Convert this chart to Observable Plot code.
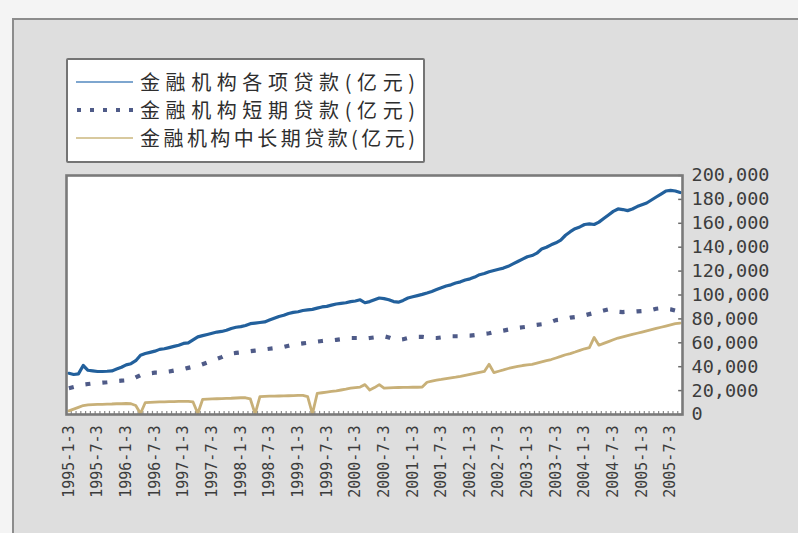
<!DOCTYPE html>
<html>
<head>
<meta charset="utf-8">
<script src="https://cdn.jsdelivr.net/npm/d3@7"></script>
<script src="https://cdn.jsdelivr.net/npm/@observablehq/plot@0.6"></script>
<style>
  html, body { margin: 0; padding: 0; background: #f4f4f4; }
  #wrap { position: relative; width: 798px; height: 533px; overflow: hidden; }
  #panel { position: absolute; left: 12px; top: 18px; width: 800px; height: 530px;
           background: #dedede; border-top: 2px solid #8c8c8c; border-left: 2px solid #8c8c8c; }
  #chart { position: absolute; left: 0; top: 0; }
  #legend { position: absolute; left: 66px; top: 58px; width: 355px; height: 101px;
            background: #ffffff; border: 2px solid #747474; border-radius: 2px; }
  .row { position: absolute; left: 0; height: 28px; width: 355px; }
  .row svg { position: absolute; left: 8px; top: 0; }
  .row span { position: absolute; left: 72px; top: 0; width: 275px; line-height: 28px;
              font-family: "Noto Sans CJK SC", sans-serif; font-size: 20px; color: #2e2e2e;
              text-align: justify; text-align-last: justify; white-space: nowrap; }
</style>
</head>
<body>
<div id="wrap">
  <div id="panel"></div>
  <div id="chart"></div>
  <div id="legend"></div>
</div>
<script>
const seriesNames = ["金融机构各项贷款(亿元)", "金融机构短期贷款(亿元)", "金融机构中长期贷款(亿元)"];

const tickLabels = ["1995-1-3","1995-7-3","1996-1-3","1996-7-3","1997-1-3","1997-7-3",
  "1998-1-3","1998-7-3","1999-1-3","1999-7-3","2000-1-3","2000-7-3","2001-1-3","2001-7-3",
  "2002-1-3","2002-7-3","2003-1-3","2003-7-3","2004-1-3","2004-7-3","2005-1-3","2005-7-3"];

const yTickValues = [0,20000,40000,60000,80000,100000,120000,140000,160000,180000,200000];

// 金融机构各项贷款 (monthly, 1995-01 .. 2005-09)
const totalLoans = [34500,33500,34000,41000,37000,36500,36000,36000,36200,36500,38000,39500,
  41500,42500,45000,49600,51000,52000,53000,54500,55000,56000,57000,58000,
  59500,60000,62500,65000,66000,67000,68000,69000,69500,70500,72000,73000,
  73500,74500,76000,76500,77000,77500,79000,80500,82000,83000,84500,85500,
  86000,87000,87500,88000,89000,90000,90500,91500,92500,93000,93500,94500,
  95000,96000,93500,94500,96000,97500,97000,96000,94500,94000,95500,97500,
  98500,99500,100500,101700,103000,104500,106000,107500,108500,110000,111000,112500,
  113500,115000,117000,118000,119500,120500,121500,122500,124000,126000,128000,130000,
  132000,133000,135000,138500,140000,142000,143700,146000,150000,153000,155500,157000,
  159000,159500,159000,161000,164000,167000,170000,172000,171500,170600,172000,174000,
  175500,177000,179500,182000,184500,187000,187500,187000,185700];

// 金融机构短期贷款
const shortTermLoans = [22000,23000,24000,25000,25500,26000,26300,26600,27000,27500,28000,28300,
  28600,29000,31000,33000,34000,34500,35000,35000,35500,36000,36800,37500,
  38000,39000,40000,40500,42000,43500,45000,46500,48000,50000,51000,51500,
  52000,52500,53000,53500,54000,54500,55000,55500,56000,56500,57500,58500,
  59000,59500,60000,60500,61000,61500,62000,62000,62500,63000,63500,64000,
  64000,64000,63500,64000,64500,65000,65500,64500,63000,62500,63000,64000,
  64500,65000,65000,64500,64000,64000,64500,65000,65500,65500,65500,66000,
  66000,66500,67000,67500,68000,69000,69500,70200,71000,71500,72500,73000,
  73500,74500,75000,75500,76500,77500,79000,79500,80000,81000,81500,82000,
  83000,84000,85000,86000,87000,88000,87000,86000,85700,86000,86000,86300,
  86600,87000,87500,88500,89000,88500,88000,87000,87000];

// 金融机构中长期贷款
const longTermLoans = [3000,4500,6000,7500,8000,8300,8500,8500,8700,8800,9000,9000,
  9200,9000,7500,800,10000,10200,10400,10500,10600,10700,10800,10900,
  11000,11000,10500,800,12600,12800,13000,13200,13300,13500,13600,13800,
  14000,14000,13000,500,15000,15200,15300,15400,15500,15600,15700,15800,
  16000,16000,15000,500,17600,18200,18800,19300,19800,20500,21200,22000,
  22500,23000,25000,20500,22500,25000,22000,22300,22500,22600,22700,22700,
  22800,22800,23000,27000,28000,28700,29300,30000,30700,31300,32000,32800,
  33600,34400,35200,36000,42000,35000,36200,37300,38500,39500,40300,41000,
  41500,42000,43000,44000,45000,46000,47300,48600,50000,51000,52300,53700,
  55000,56000,64500,58000,59500,61000,62500,64000,65000,66000,67000,68000,
  69000,70000,71000,72000,73000,74000,75000,76000,76500];

const colors = ["#22609c", "#4f5b88", "#c8b078"];
const n = totalLoans.length;
const monthIdx = d3.range(n);
const labelIdx = tickLabels.map((_, i) => i * 6);

const chart = Plot.plot({
  width: 798,
  height: 533,
  marginLeft: 66,
  marginRight: 116,
  marginTop: 175,
  marginBottom: 119,
  style: { background: "transparent", fontFamily: "DejaVu Sans Mono, monospace", color: "#3c3c3c" },
  x: { domain: [-0.5, n - 0.5], axis: null },
  y: { domain: [0, 200000], axis: null },
  marks: [
    Plot.frame({ fill: "white", stroke: null }),
    Plot.ruleX(monthIdx, { x: d => d - 0.5, y1: 0, y2: 2600, stroke: "#8a8a8a", strokeWidth: 1.2 }),
    Plot.ruleY(yTickValues, { y: d => d, x1: n - 0.5, x2: n - 1.3, stroke: "#6a6a6a", strokeWidth: 1.5 }),
    Plot.lineY(longTermLoans, { x: (d, i) => i, y: d => d, stroke: colors[2], strokeWidth: 2.8 }),
    Plot.lineY(shortTermLoans, { x: (d, i) => i, y: d => d, stroke: colors[1], strokeWidth: 4.2,
      strokeDasharray: "5,12", strokeLinecap: "butt" }),
    Plot.lineY(totalLoans, { x: (d, i) => i, y: d => d, stroke: colors[0], strokeWidth: 3.2 }),
    Plot.frame({ stroke: "#7a7a7a", strokeWidth: 2.6 }),
    Plot.axisY(yTickValues, { anchor: "right", tickSize: 0, tickPadding: 9, label: null,
      tickFormat: d3.format(","), fontSize: 18.5, fill: "#3c3c3c" }),
    Plot.axisX(labelIdx, { anchor: "bottom", tickSize: 0, tickPadding: 11, label: null,
      tickRotate: -90, tickFormat: d => tickLabels[d / 6], fontSize: 15, fill: "#3c3c3c" })
  ]
});
document.getElementById("chart").appendChild(chart);

// Legend
const legend = document.getElementById("legend");
const rowTops = [8, 36, 64];
seriesNames.forEach((name, i) => {
  const row = document.createElement("div");
  row.className = "row";
  row.style.top = rowTops[i] + "px";
  let line;
  if (i === 0) line = `<line x1="0" y1="14" x2="57" y2="14" stroke="#7ea6cf" stroke-width="2"/>`;
  else if (i === 1) line = `<line x1="1" y1="14" x2="57" y2="14" stroke="#4f5b88" stroke-width="4" stroke-dasharray="4,9"/>`;
  else line = `<line x1="0" y1="14" x2="57" y2="14" stroke="#d8c99e" stroke-width="2"/>`;
  row.innerHTML = `<svg width="60" height="28">${line}</svg><span>${name}</span>`;
  legend.appendChild(row);
});
</script>
</body>
</html>
